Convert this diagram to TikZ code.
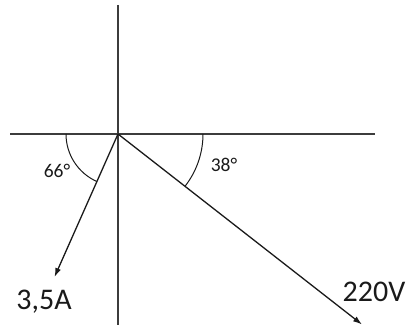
\documentclass[tikz,border=0pt]{standalone}
\usepackage{fontspec}
\setmainfont{Carlito}
\usetikzlibrary{arrows.meta}
\definecolor{ink}{HTML}{1A1A1A}

\begin{document}
\begin{tikzpicture}[x=1pt, y=1pt,
  axis/.style={line width=1.1pt, color=ink!85},
  phasor/.style={-{Latex[length=9pt,width=6pt]}, line width=1.3pt, color=ink},
  anglearc/.style={line width=1pt, color=ink},
  biglabel/.style={font=\fontsize{30}{31}\selectfont, text=ink, inner sep=0pt},
  smalllabel/.style={font=\fontsize{19.5}{20}\selectfont, text=ink, inner sep=0pt}]
\useasboundingbox (0,0) rectangle (408,329);
\coordinate (origin) at (118,195);
\coordinate (top) at (118,324);
\coordinate (bottom) at (118,4);
\coordinate (left) at (10,195);
\coordinate (right) at (375,195);
\coordinate (itip) at (54.5,52);
\coordinate (utip) at (362,4.5);
\draw[axis] (top) -- (bottom);
\draw[axis] (left) -- (right);
\draw[phasor] (origin) -- (itip);
\draw[phasor] (origin) -- (utip);
% angle marks
\draw[anglearc] (origin) ++(180:52) arc[start angle=180, end angle=246, radius=52];
\draw[anglearc] (origin) ++(0:85) arc[start angle=0, end angle=-38, radius=85];
\node[smalllabel] (phi1) at (57,158) {66°};
\node[smalllabel] (phi2) at (224,164) {38°};
\node[biglabel] (current) at (44,27) {3,5A};
\node[biglabel] (voltage) at (374,37) {220V};
\end{tikzpicture}
\end{document}
